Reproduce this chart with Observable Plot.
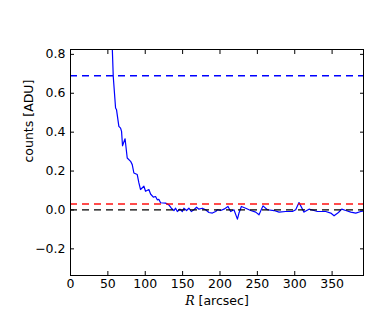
<!DOCTYPE html>
<html>
<head>
<meta charset="utf-8">
<script src="https://cdn.jsdelivr.net/npm/d3@7"></script>
<script src="https://cdn.jsdelivr.net/npm/@observablehq/plot@0.6"></script>
<style>
  html, body { margin: 0; padding: 0; background: white; }
</style>
</head>
<body>
<div id="chart"></div>
<script>
// Radial profile: radius R [arcsec] and counts [ADU]
const radius = [55.3, 57.2, 60.3, 61.6, 64.7, 67.0, 68.3, 69.6, 73.0, 75.9, 80.4, 82.6, 84.8, 89.3, 91.5, 93.7, 98.2, 100.4, 104.9, 107.1, 110.8, 113.8, 116.1, 118.3, 120.5, 127.2, 131.6, 134.9, 138.4, 140.6, 142.9, 146.4, 149.6, 151.7, 155.3, 158.4, 161.6, 165.1, 168.7, 171.8, 176.4, 180.8, 185.2, 189.8, 194.2, 196.5, 200.9, 205.3, 210.7, 214.3, 218.7, 223.3, 225.4, 228.6, 234.4, 241.1, 247.8, 252.2, 257.5, 263.4, 272.3, 279.0, 287.9, 296.9, 301.3, 305.7, 312.4, 319.1, 325.8, 330.4, 337.1, 341.5, 348.2, 352.6, 358.5, 362.9, 368.3, 375.0, 381.7, 388.4, 392.4];
const counts = [0.90, 0.686, 0.524, 0.515, 0.430, 0.421, 0.404, 0.330, 0.366, 0.267, 0.250, 0.233, 0.190, 0.182, 0.139, 0.105, 0.122, 0.096, 0.105, 0.082, 0.066, 0.069, 0.052, 0.054, 0.037, 0.035, 0.026, 0.009, -0.003, 0.009, -0.008, 0.004, -0.008, 0.009, -0.003, 0.009, -0.008, 0.001, 0.014, 0.004, 0.009, 0.001, -0.013, -0.016, -0.008, 0.001, -0.003, 0.004, 0.018, -0.008, 0.001, -0.047, -0.016, 0.018, 0.009, -0.003, -0.011, -0.025, 0.021, 0.001, -0.003, -0.011, -0.008, -0.008, 0.001, 0.038, -0.011, 0.004, -0.003, -0.008, -0.008, -0.008, -0.016, -0.030, -0.013, 0.004, -0.003, -0.011, -0.016, -0.008, -0.006];

// Reference levels (horizontal dashed lines)
const levelValues = [0.69, 0.031, 0.0];
const levelColors = ["#0000ff", "#ff0000", "#000000"];

// Axes
const xDomain = [0, 392];
const yDomain = [-0.337, 0.825];
const xTicks = [0, 50, 100, 150, 200, 250, 300, 350];
const yTicks = [-0.2, 0.0, 0.2, 0.4, 0.6, 0.8];
const xLabel = "R [arcsec]";
const yLabel = "counts [ADU]";

const profile = radius.map((r, i) => ({R: r, c: counts[i]}));

const plot = Plot.plot({
  width: 390,
  height: 325,
  marginLeft: 70,
  marginRight: 27,
  marginTop: 49,
  marginBottom: 50,
  style: {fontFamily: "DejaVu Sans", fontSize: "12.5px", background: "white", color: "black"},
  x: {domain: xDomain},
  y: {domain: yDomain},
  marks: [
    Plot.line(profile, {x: "R", y: "c", stroke: "#0000ff", strokeWidth: 1.2, clip: true}),
    Plot.ruleY([levelValues[0]], {stroke: levelColors[0], strokeWidth: 1.3, strokeDasharray: "7,5"}),
    Plot.ruleY([levelValues[1]], {stroke: levelColors[1], strokeOpacity: 0.7, strokeWidth: 2, strokeDasharray: "7,5"}),
    Plot.ruleY([levelValues[2]], {stroke: levelColors[2], strokeWidth: 1.2, strokeDasharray: "7,5"}),
    Plot.frame({stroke: "black", strokeWidth: 1}),
    // tick labels
    Plot.axisX({anchor: "bottom", ticks: xTicks, tickSize: 0, tickPadding: 4, tickFormat: d3.format("d"), label: null}),
    Plot.axisY({anchor: "left", ticks: yTicks, tickSize: 0, tickPadding: 5, tickFormat: d3.format(".1f"), label: null}),
    // inward ticks on all four sides
    Plot.axisX({anchor: "bottom", ticks: xTicks, tickSize: -4, fill: "none", label: null}),
    Plot.axisX({anchor: "top", ticks: xTicks, tickSize: -4, fill: "none", label: null}),
    Plot.axisY({anchor: "left", ticks: yTicks, tickSize: -4, fill: "none", label: null}),
    Plot.axisY({anchor: "right", ticks: yTicks, tickSize: -4, fill: "none", label: null}),
    // axis titles
    Plot.text([xLabel], {frameAnchor: "bottom", dy: 29, text: d => d, fontSize: 12.5}),
    Plot.text([yLabel], {frameAnchor: "left", dx: -42, rotate: -90, text: d => d, fontSize: 12.5})
  ]
});

document.getElementById("chart").appendChild(plot);

// italic math-style R in x label
d3.select(plot).selectAll("text").each(function() {
  if (this.textContent === xLabel) {
    const t = d3.select(this);
    t.text(null);
    t.append("tspan").attr("font-style", "italic").attr("font-family", "DejaVu Serif").text("R");
    t.append("tspan").text(" [arcsec]");
  }
});
</script>
</body>
</html>
